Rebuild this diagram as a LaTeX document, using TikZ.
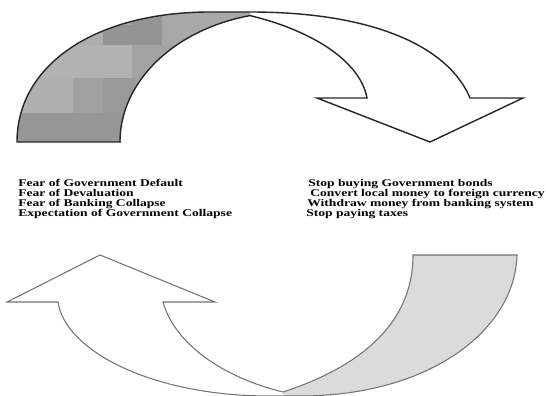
\documentclass[tikz,border=0pt]{standalone}
\usepackage{fontspec}
\setmainfont{Liberation Serif}
\newcommand\txtstretch{1.32}
\newcommand\wide[1]{\scalebox{\txtstretch}[1]{#1}}
\newcommand\upperback{(17,142) .. controls (17,65) and (95,12) .. (210,12) -- (250,12) -- (250,15.6) arc[start angle=256.4,end angle=180,x radius=170,y radius=130] -- cycle}

\begin{document}
\begin{tikzpicture}[
x=0.02cm,y=-0.02cm,
upline/.style={draw=black!85,line width=0.8pt},
lowline/.style={draw=black!55,line width=0.6pt},
txtline/.style={anchor=base west,inner sep=0,font=\fontsize{5.85}{6}\selectfont\bfseries}
]
\useasboundingbox (0,0) rectangle (546,395);
%\draw[gray,very thin,step=10] (0,0) grid (546,395);

% upper arrow, shaded back part
\begin{scope}
\clip \upperback;
\fill[black!36] (0,0) rectangle (260,150);
\fill[black!41] (0,113) rectangle (260,150);
\fill[black!31] (0,78) rectangle (73,113);
\fill[black!37] (73,78) rectangle (103,113);
\fill[black!40] (103,78) rectangle (135,113);
\fill[black!30] (0,45) rectangle (132,78);
\fill[black!36] (132,45) rectangle (162,78);
\fill[black!32] (0,0) rectangle (103,45);
\fill[black!42] (103,25) rectangle (162,45);
\fill[black!42] (132,0) rectangle (162,25);
\fill[black!34] (162,0) rectangle (260,45);
\end{scope}
\draw[upline] (121,142) -- (17,142) .. controls (17,65) and (95,12) .. (210,12) -- (250,12)
  .. controls (380,12) and (450,50) .. (470,98) -- (523,98) -- (430,142) -- (317,98) -- (367,98)
  .. controls (360,60) and (310,30) .. (250,15.6)
  arc[start angle=256.4,end angle=180,x radius=170,y radius=130];

% lower arrow
\fill[black!14] (413,255) -- (517,255) .. controls (515,330) and (430,396) .. (300,396) -- (283,396)
  -- (283,392) .. controls (350,370) and (413,330) .. (413,255) -- cycle;
\draw[lowline] (283,392) .. controls (350,370) and (413,330) .. (413,255) -- (517,255)
  .. controls (515,330) and (430,396) .. (300,396) -- (270,396)
  .. controls (150,396) and (65,350) .. (58,302) -- (7,302) -- (100,255) -- (215,302) -- (163,302)
  .. controls (175,345) and (225,378) .. (283,392);

% texts
\foreach \txt [count=\i] in {Fear of Government Default,Fear of Devaluation,Fear of Banking Collapse,Expectation of Government Collapse}
{
\node[txtline] (fear\i) at (18,176+10*\i) {\wide{\txt}};
}
\foreach \txt/\xx [count=\i] in {Stop buying Government bonds/308,Convert local money to foreign currency/310,Withdraw money from banking system/307,Stop paying taxes/306}
{
\node[txtline] (act\i) at (\xx,176+10*\i) {\wide{\txt}};
}
\end{tikzpicture}
\end{document}
